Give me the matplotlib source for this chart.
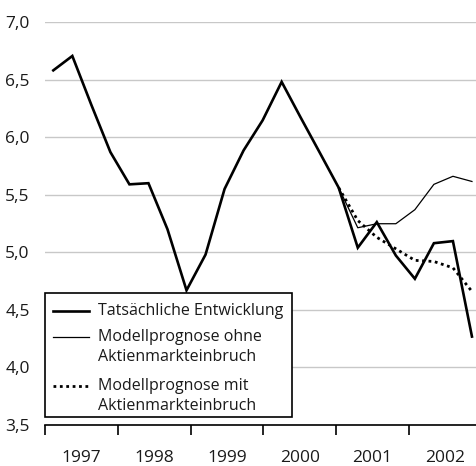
import matplotlib
matplotlib.use("Agg")
import matplotlib.pyplot as plt
from matplotlib.patches import Rectangle
from matplotlib.lines import Line2D

plt.rcParams['font.family'] = ['Open Sans', 'DejaVu Sans']

# Quarterly observations (index 0 = first point)
actual = [6.58, 6.705, 6.28, 5.87, 5.59, 5.60, 5.20, 4.67, 4.98, 5.55, 5.885, 6.146,
          6.48, 6.17, 5.866, 5.56, 5.04, 5.262, 4.972, 4.77, 5.079, 5.097, 4.268]
ohne_start = 15
ohne = [5.56, 5.213, 5.248, 5.248, 5.37, 5.59, 5.66, 5.615]
mit_start = 15
mit = [5.56, 5.276, 5.13, 5.03, 4.93, 4.92, 4.865, 4.66]

years = [1997, 1998, 1999, 2000, 2001, 2002]
yticks = [3.5, 4.0, 4.5, 5.0, 5.5, 6.0, 6.5, 7.0]
ytick_labels = ["3,5", "4,0", "4,5", "5,0", "5,5", "6,0", "6,5", "7,0"]

legend_labels = [["Tatsächliche Entwicklung"],
                 ["Modellprognose ohne", "Aktienmarkteinbruch"],
                 ["Modellprognose mit", "Aktienmarkteinbruch"]]

W, H = 477, 466
fig = plt.figure(figsize=(W / 100, H / 100), dpi=100)
ax_l, ax_r, ax_t, ax_b = 45, 477, 22, 425
ax = fig.add_axes([ax_l / W, (H - ax_b) / H, (ax_r - ax_l) / W, (ax_b - ax_t) / H])

x_act = list(range(len(actual)))
x_ohne = list(range(ohne_start, ohne_start + len(ohne)))
x_mit = list(range(mit_start, mit_start + len(mit)))

lw_thick = 1.9
ax.plot(x_ohne, ohne, color='black', lw=0.9, zorder=3)
ax.plot(x_mit, mit, color='black', lw=2.0, linestyle=(0, (1, 1.3)), zorder=3)
ax.plot(x_act, actual, color='black', lw=lw_thick, zorder=4, solid_joinstyle='miter')

# x scale: pixel = 53.3 + 19.03 * i
p0, dp = 53.3, 19.03
ax.set_xlim((ax_l - p0) / dp, (ax_r - p0) / dp)
ax.set_ylim(3.5, 7.0)

ax.set_yticks(yticks)
ax.set_yticklabels(ytick_labels)
ax.tick_params(axis='y', length=0, pad=11, labelsize=12.5, colors='#1a1a1a')
ax.grid(axis='y', color='#c8c8c8', lw=1.0)
ax.set_axisbelow(True)
for s in ['left', 'right', 'top']:
    ax.spines[s].set_visible(False)
ax.spines['bottom'].set_linewidth(1.2)
ax.set_xticks([])

# Year axis (year units) mapped onto index scale
px_per_year = 72.8
def idx2year(i):
    return 1997 + (p0 + dp * i - ax_l) / px_per_year
def year2idx(y):
    return ((y - 1997) * px_per_year + ax_l - p0) / dp
sec = ax.secondary_xaxis('bottom', functions=(idx2year, year2idx))
sec.spines['bottom'].set_visible(False)
sec.set_xticks(years)
sec.set_xticklabels([])
sec.tick_params(axis='x', which='major', length=7, width=1.2, direction='out')
sec.set_xticks([y + 0.5 for y in years], minor=True)
sec.set_xticklabels([str(y) for y in years], minor=True)
sec.tick_params(axis='x', which='minor', length=0, pad=18, labelsize=12.5, labelcolor='#1a1a1a')

# Legend drawn manually
def ax_x(px):
    return (px - ax_l) / (ax_r - ax_l)
def ax_y(py):
    return (ax_b - py) / (ax_b - ax_t)

box = Rectangle((ax_x(45), ax_y(417)), ax_x(292) - ax_x(45), ax_y(293) - ax_y(417),
                transform=ax.transAxes, facecolor='white', edgecolor='black', lw=1.2,
                zorder=10, clip_on=False)
ax.add_patch(box)
handle_styles = [dict(lw=lw_thick, linestyle='-'),
                 dict(lw=0.9, linestyle='-'),
                 dict(lw=2.0, linestyle=(0, (1, 1.3)))]
rows = [[311], [337, 357], [386, 406]]
for labels, ys, st in zip(legend_labels, rows, handle_styles):
    ax.add_line(Line2D([ax_x(53), ax_x(89)], [ax_y(ys[0]), ax_y(ys[0])],
                       transform=ax.transAxes, color='black', zorder=11, clip_on=False, **st))
    for lab, py in zip(labels, ys):
        ax.text(ax_x(98), ax_y(py), lab, transform=ax.transAxes, ha='left', va='center',
                fontsize=11.5, color='#1a1a1a', zorder=11)

fig.savefig('out.png', dpi=100)
